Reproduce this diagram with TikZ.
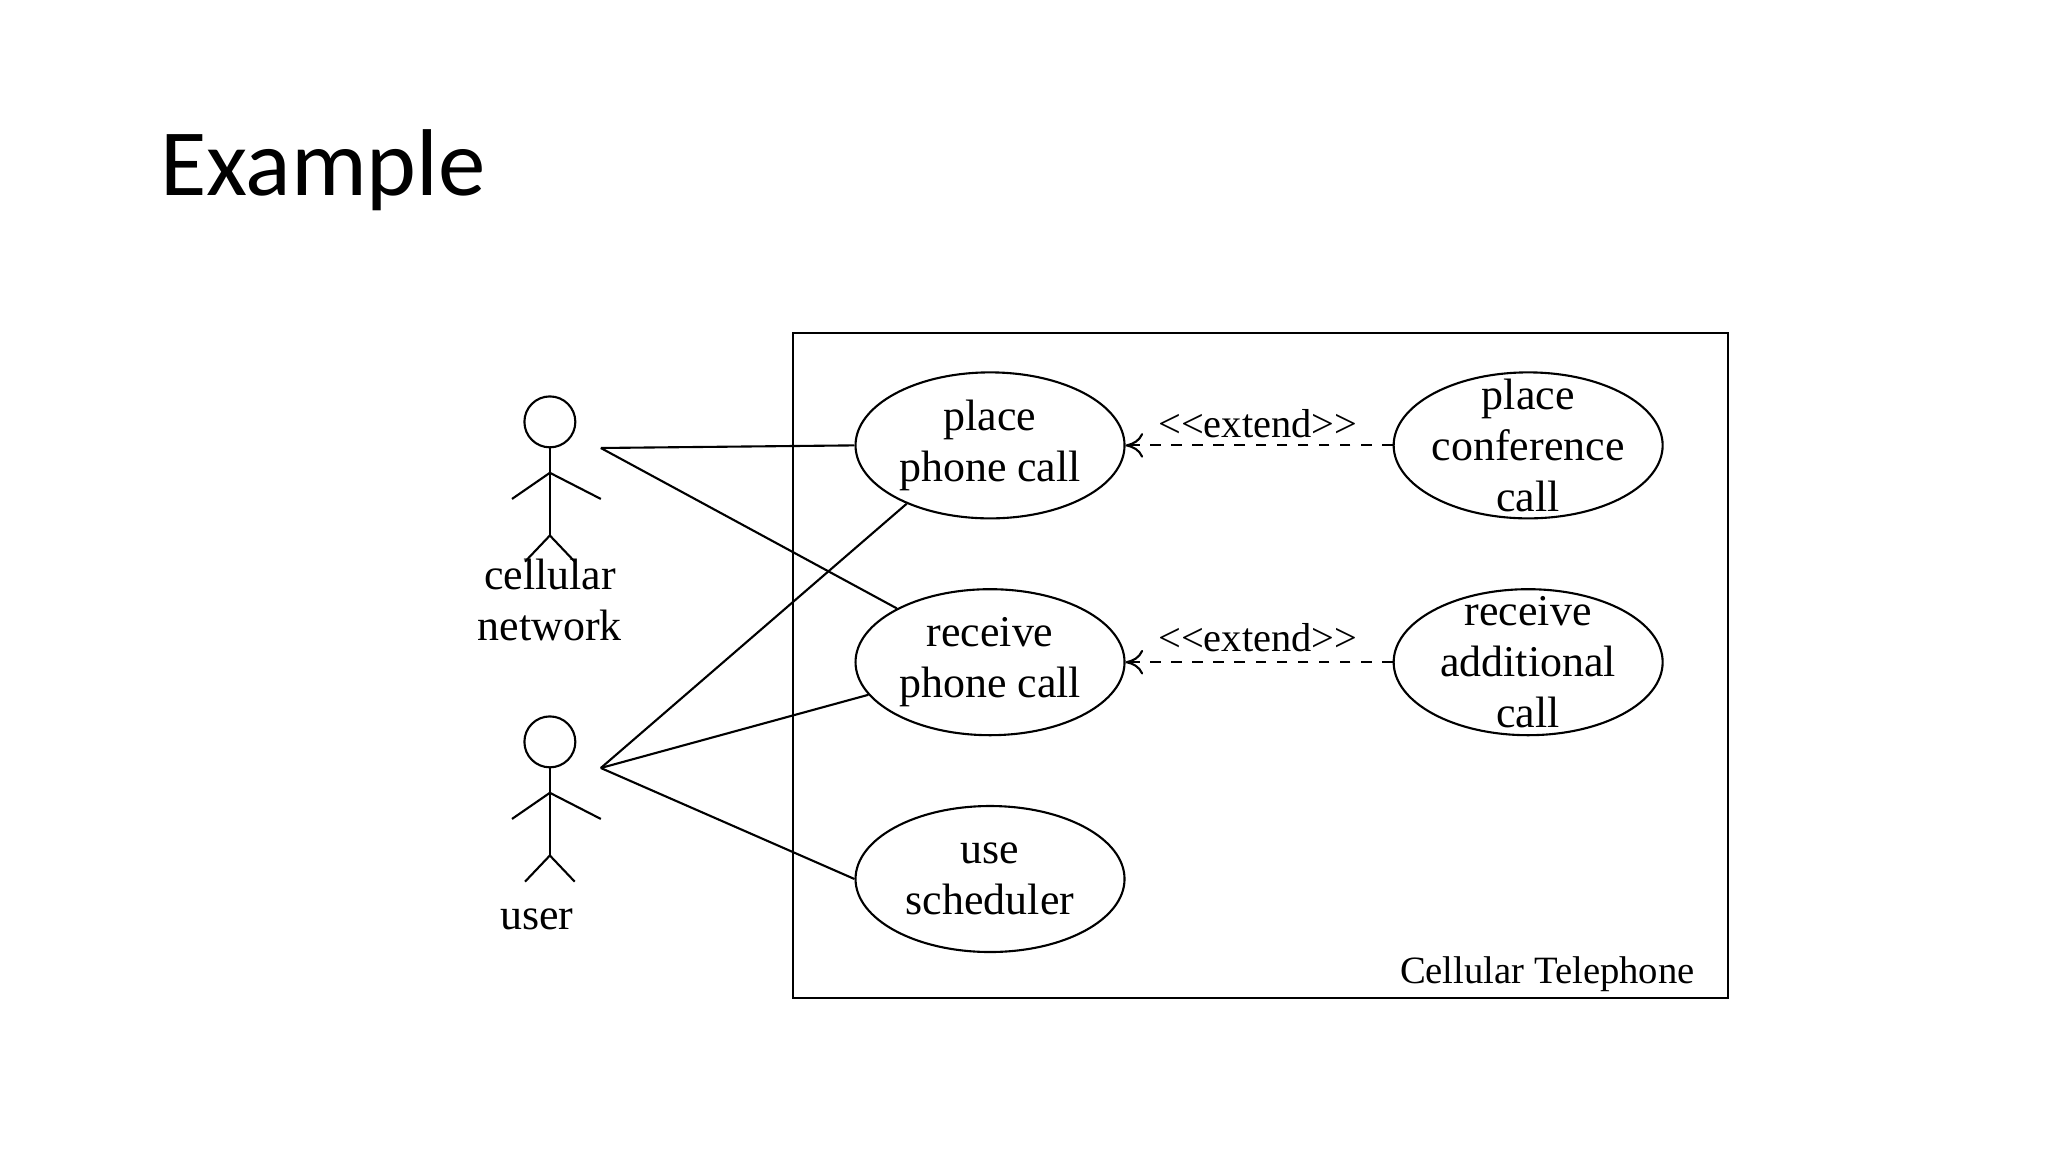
\documentclass[tikz,border=0pt]{standalone}
\usepackage{fontspec}
\setmainfont{Liberation Serif}
\newfontfamily\titlefont{Carlito}
\usetikzlibrary{shapes.geometric,arrows.meta}
\begin{document}
\begin{tikzpicture}[x=0.013061cm,y=-0.013061cm,
  uc/.style={ellipse,draw,line width=0.6pt,minimum width=2.69cm,minimum height=1.46cm,inner sep=0pt,
    label={[align=center,font=\fontsize{12.5}{14.5}\selectfont]center:#1}},
  lbl/.style={align=center,font=\fontsize{12.5}{14.5}\selectfont},
  ln/.style={line width=0.6pt},
  ext/.style={line width=0.6pt,dashed,-{To[length=5pt,width=7pt]}}]
\useasboundingbox (0,0) rectangle (1568,882);
\node[anchor=west,font=\titlefont\fontsize{27}{32}\selectfont] (title) at (113,130) {Example};
\draw[ln] (607,255) rectangle (1323,764);
\node[anchor=east,font=\fontsize{11}{13}\selectfont] (sys) at (1307,746) {Cellular Telephone};
\node[uc={place\\phone call}] (place) at (758,341) {};
\node[uc={place\\conference\\call}] (conf) at (1170,341) {};
\node[uc={receive\\phone call}] (recv) at (758,507) {};
\node[uc={receive\\additional\\call}] (addl) at (1170,507) {};
\node[uc={use\\scheduler}] (sched) at (758,673) {};
% actors
\foreach \n/\y in {cn/323,us/568}{
  \draw[ln] (421,\y) circle[radius=19.5];
  \draw[ln] (421,\y+20) -- (421,\y+87);
  \draw[ln] (392,\y+59) -- (421,\y+39) -- (460,\y+59);
  \draw[ln] (402,\y+107) -- (421,\y+87) -- (440,\y+107);
}
\coordinate (cnh) at (460,343);
\coordinate (ush) at (460,588);
\node[lbl] (cnl) at (421,459) {cellular\\network};
\node[lbl] (usl) at (411,704) {user};
\draw[ln] (cnh) -- (place.west);
\draw[ln] (cnh) -- (recv.150);
\draw[ln] (ush) -- (place.215);
\draw[ln] (ush) -- (recv.195);
\draw[ln] (ush) -- (sched.west);
\draw[ext] (conf.west) -- (place.east);
\draw[ext] (addl.west) -- (recv.east);
\node[font=\fontsize{11.5}{13}\selectfont] (e1) at (963,324) {{<}{<}extend{>}{>}};
\node[font=\fontsize{11.5}{13}\selectfont] (e2) at (963,488) {{<}{<}extend{>}{>}};
\end{tikzpicture}
\end{document}
